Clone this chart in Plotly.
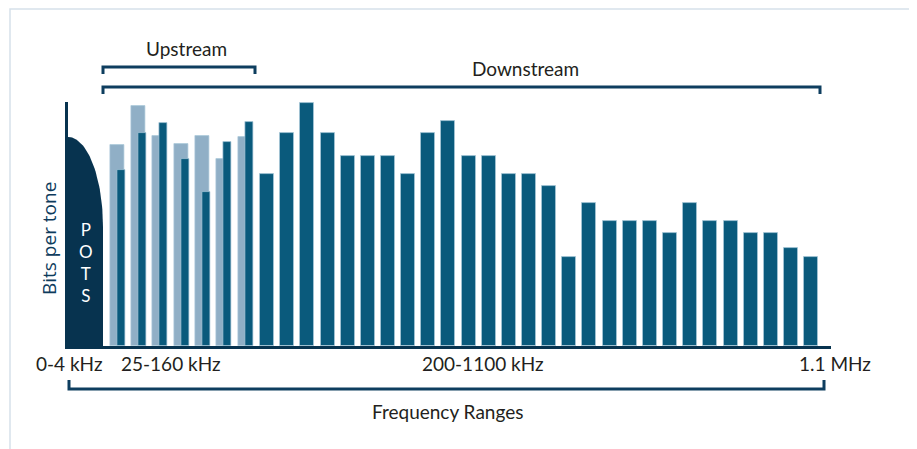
import math
import plotly.graph_objects as go

# ---------------- data ----------------
upstream_tones = ["1", "2", "3", "4", "5", "6", "7"]
upstream_light = [20.1, 24.0, 21.0, 20.2, 21.0, 18.7, 20.9]   # upstream bits per tone
upstream_dark = [17.6, 21.3, 22.3, 18.7, 15.4, 20.4, 22.4]    # downstream bits in shared tones

downstream_tones = ["8", "9", "10", "11", "12", "13", "14", "15", "16", "17",
                    "18", "19", "20", "21", "22", "23", "24", "25", "26", "27",
                    "28", "29", "30", "31", "32", "33", "34", "35"]
downstream_bits = [17.2, 21.3, 24.3, 21.3, 19.0, 19.0, 19.0, 17.2, 21.3, 22.5,
                   19.0, 19.0, 17.2, 17.2, 16.0, 8.9, 14.3, 12.5, 12.5, 12.5,
                   11.3, 14.3, 12.5, 12.5, 11.3, 11.3, 9.8, 8.9]

pots_top = 20.9          # height of the POTS band
freq_labels = ["0-4 kHz", "25-160 kHz", "200-1100 kHz", "1.1 MHz"]

# ---------------- styling ----------------
OFF = 8                  # default page margin of the html body
W, H = 917 - OFF, 449 - OFF
DARK = "#0a5a7c"
LIGHT = "#90afc6"
NAVY = "#07334f"
BRACKET = "#0e3e5f"
TEXT = "#231f20"
FONT = "Lato"


def px(x):
    return (x - OFF) / W


def py(y):
    return 1 - (y - OFF) / H


fig = go.Figure()

# POTS region (quarter ellipse top, vertical right edge)
a_w = 35.0
b_h = 9.0
cy = pots_top - b_h
xs, ys = [0, a_w, a_w], [0, 0, cy]
for i in range(1, 41):
    t = i / 40 * math.pi / 2
    xs.append(a_w * math.cos(t))
    ys.append(cy + b_h * math.sin(t))
xs.append(0)
ys.append(0)
fig.add_trace(go.Scatter(x=xs, y=ys, xaxis="x3", yaxis="y", mode="lines",
                         line=dict(width=0, color=NAVY), fill="toself",
                         fillcolor=NAVY, hoverinfo="skip", showlegend=False))

bar_line = dict(color="rgba(170,200,218,0.9)", width=0.8)
fig.add_trace(go.Bar(x=upstream_tones, y=upstream_light, xaxis="x", yaxis="y",
                     marker=dict(color=LIGHT, line=bar_line),
                     width=0.656, offset=-0.328, showlegend=False))
fig.add_trace(go.Bar(x=upstream_tones, y=upstream_dark, xaxis="x", yaxis="y",
                     marker=dict(color=DARK, line=bar_line),
                     width=0.375, offset=0.0, showlegend=False))
fig.add_trace(go.Bar(x=downstream_tones, y=downstream_bits, xaxis="x2", yaxis="y",
                     marker=dict(color=DARK, line=bar_line),
                     width=0.695, showlegend=False))

hidden = dict(showticklabels=False, showgrid=False, zeroline=False, ticks="",
              showline=False, fixedrange=True)

fig.update_layout(
    width=W, height=H,
    margin=dict(l=0, r=0, t=0, b=0),
    paper_bgcolor="white", plot_bgcolor="rgba(0,0,0,0)",
    barmode="overlay", bargap=0,
    font=dict(family=FONT, color=TEXT, size=17),
    xaxis=dict(domain=[px(106.3), px(255.6)], range=[-0.5, 6.5], type="category",
               anchor="y", **hidden),
    xaxis2=dict(domain=[px(256.9), px(821.1)], range=[-0.5, 27.5], type="category",
                anchor="y", **hidden),
    xaxis3=dict(domain=[px(68), px(831)], range=[0, 763], anchor="y",
                showticklabels=False, showgrid=False, zeroline=False, ticks="",
                showline=True, linecolor=NAVY, linewidth=3, fixedrange=True),
    yaxis=dict(domain=[py(346), py(102)], range=[0, 24.4], anchor="x3",
               showticklabels=False, showgrid=False, zeroline=False, ticks="",
               showline=True, linecolor=NAVY, linewidth=2.5, fixedrange=True),
)

shapes = []
# frame
shapes.append(dict(type="rect", xref="paper", yref="paper",
                   x0=px(10), x1=px(915), y0=py(9), y1=py(470),
                   line=dict(color="#d6e1ea", width=1.5), layer="below"))


def bracket(x0, x1, y_line, y_tip):
    return dict(type="path", xref="paper", yref="paper",
                path=f"M {px(x0)},{py(y_tip)} L {px(x0)},{py(y_line)} "
                     f"L {px(x1)},{py(y_line)} L {px(x1)},{py(y_tip)}",
                line=dict(color=BRACKET, width=3))


shapes.append(bracket(103, 255, 67, 74))
shapes.append(bracket(103, 820, 87, 94))
shapes.append(bracket(69, 824, 389, 380))
fig.update_layout(shapes=shapes)

ann = []


def text(x, y, s, size=17, color=TEXT, family=FONT, angle=0):
    ann.append(dict(x=px(x), y=py(y), xref="paper", yref="paper", text=s,
                    showarrow=False, xanchor="center", yanchor="middle",
                    textangle=angle, font=dict(size=size, color=color, family=family)))


text(186, 48, "Upstream", 19)
text(525, 68, "Downstream", 19)
text(447, 411, "Frequency Ranges", 19)
for lab, xc in zip(freq_labels, [69, 171, 483, 835]):
    text(xc, 363, lab, 19)
text(49, 239, "Bits per tone", 19, color="#0d3b5c", family="Open Sans", angle=-90)
text(86, 262, "P<br>O<br>T<br>S", 17, color="white")
fig.update_layout(annotations=ann)

fig.write_html("out.html")
